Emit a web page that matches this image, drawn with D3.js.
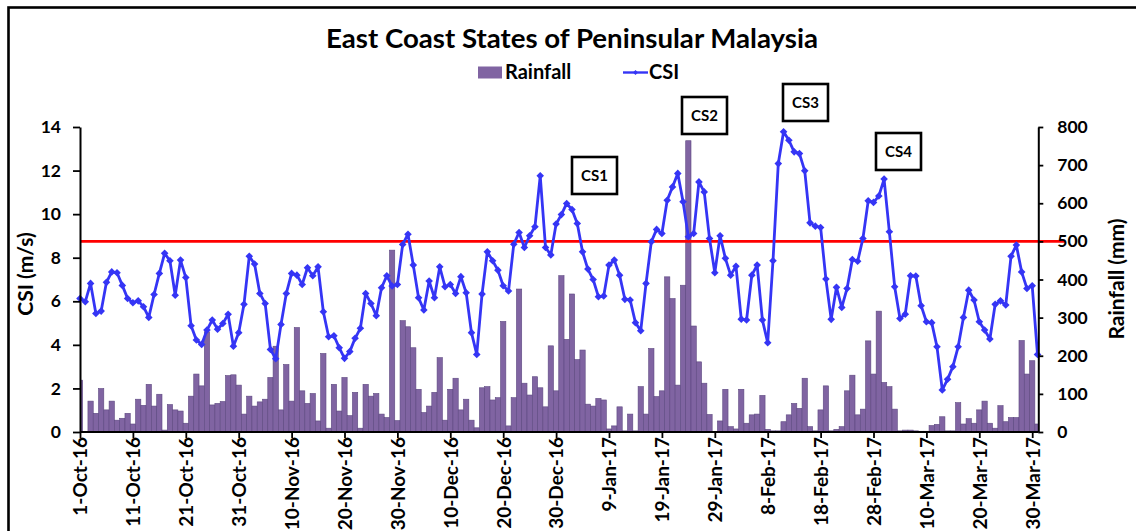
<!DOCTYPE html>
<html><head><meta charset="utf-8">
<script src="https://cdn.jsdelivr.net/npm/d3@7"></script>
<style>
html,body{margin:0;padding:0;background:#fff;}
svg{display:block;font-family:Lato,"Open Sans",sans-serif;}
</style></head>
<body><svg id="chart" width="1136" height="531"></svg>
<script>
// ---- data ----
const startDate = "2016-10-01";
const csi = [
6.13,5.98,6.82,5.44,5.55,6.87,7.35,7.31,6.73,6.13,
5.93,6.02,5.75,5.26,6.31,7.28,8.20,7.86,6.28,7.89,
7.09,4.88,4.22,4.02,4.68,5.14,4.72,4.98,5.40,3.94,
4.56,5.86,8.07,7.71,6.36,5.90,3.79,3.36,4.94,6.36,
7.28,7.20,6.77,7.54,7.17,7.58,5.52,4.37,4.42,3.87,
3.38,3.69,4.30,4.76,6.36,5.90,5.34,6.62,7.17,6.70,
6.77,8.61,9.08,7.66,6.16,5.60,6.93,6.16,7.58,6.67,
6.77,6.36,7.13,6.39,4.56,3.56,6.33,8.27,7.86,7.43,
6.71,6.47,8.62,9.16,8.47,9.01,9.42,11.76,8.47,8.13,
9.55,9.98,10.49,10.21,9.57,8.27,7.48,7.00,6.21,6.24,
7.66,7.89,7.20,6.09,6.06,5.02,4.65,6.82,8.73,9.30,
9.11,10.64,11.25,11.87,10.57,8.96,9.11,11.48,11.02,8.88,
7.31,9.01,7.97,7.20,7.61,5.18,5.14,7.20,7.66,5.14,
4.10,7.86,12.32,13.78,13.39,12.86,12.78,11.99,9.60,9.45,
9.39,7.02,5.17,6.64,5.72,6.59,7.92,7.84,8.88,10.61,
10.54,10.83,11.61,9.19,6.67,5.21,5.41,7.17,7.16,5.80,
5.06,5.02,3.91,1.93,2.42,3.00,3.91,5.26,6.51,6.06,
5.06,4.68,4.27,5.86,6.02,5.83,8.07,8.58,7.35,6.59,
6.71,3.56];
const rainfall = [
136,0,81,49,114,58,81,31,36,49,
21,86,70,125,68,99,5,72,58,55,
23,94,152,121,263,71,75,80,148,150,
123,47,94,68,79,86,143,225,58,177,
81,274,108,75,101,29,206,10,125,55,
143,43,104,10,125,94,101,47,38,477,
30,292,276,221,112,51,68,104,195,31,
112,141,58,86,31,11,116,119,84,90,
290,16,90,375,128,97,145,116,66,226,
108,410,243,362,190,215,73,68,88,84,
8,16,66,3,47,3,119,47,219,93,
108,407,350,123,385,764,278,184,128,46,
0,29,112,14,8,112,23,45,47,96,
7,3,3,27,45,75,62,141,14,3,
58,121,3,7,14,108,149,45,60,239,
152,317,130,119,60,3,5,5,3,2,
2,17,20,40,3,3,77,21,35,23,
58,81,23,10,69,27,38,38,240,152,
187,21];
const csiTicks = [0,2,4,6,8,10,12,14];
const rainTicks = [0,100,200,300,400,500,600,700,800];
const thresholdRain = 500;
const annotations = [
  {label:"CS1", x:572, y:157, w:45, h:37},
  {label:"CS2", x:682, y:97,  w:45, h:37},
  {label:"CS3", x:783, y:84,  w:45, h:37},
  {label:"CS4", x:876, y:133, w:45, h:37}
];
const titleText = "East Coast States of Peninsular Malaysia";

(function(){
const svg = d3.select("#chart");
const parse = d3.utcParse("%Y-%m-%d");
const day0 = parse(startDate);
const dates = csi.map((_, i) => d3.utcDay.offset(day0, i));
const data = dates.map((d, i) => ({date:d, csi:csi[i], rain:rainfall[i]}));

const pL = 80, pR = 1037.5, pT = 127, pB = 432;
const x = d3.scaleUtc().domain([dates[0], dates[dates.length-1]]).range([pL, pR]);
const yL = d3.scaleLinear().domain([0,14]).range([pB, pT]);
const yR = d3.scaleLinear().domain([0,800]).range([pB, pT]);
const bw = x(dates[1]) - x(dates[0]);

const purple = "#8064A2", blue = "#3535F5";

svg.append("rect").attr("x",8.5).attr("y",7.5).attr("width",1300).attr("height",700)
  .attr("fill","none").attr("stroke","#000").attr("stroke-width",2.6);

svg.append("clipPath").attr("id","plotclip").append("rect")
  .attr("x",pL).attr("y",pT-5).attr("width",pR-pL+1).attr("height",pB-pT+5);

svg.append("g").attr("clip-path","url(#plotclip)")
  .selectAll("rect").data(data).join("rect")
  .attr("x", d => x(d.date) - bw/2)
  .attr("width", bw)
  .attr("y", d => yR(d.rain))
  .attr("height", d => pB - yR(d.rain))
  .attr("fill", purple)
  .attr("stroke", "#5d4880").attr("stroke-width", 0.6);

svg.append("line").attr("x1",pL).attr("x2",1065)
  .attr("y1",yR(thresholdRain)).attr("y2",yR(thresholdRain))
  .attr("stroke","#FF0000").attr("stroke-width",2.8);

const line = d3.line().x(d => x(d.date)).y(d => yL(d.csi));
svg.append("path").datum(data).attr("d", line)
  .attr("fill","none").attr("stroke",blue).attr("stroke-width",2.8).attr("stroke-linejoin","round");
const diamond = "M0,-3.8L3.8,0L0,3.8L-3.8,0Z";
svg.append("g").selectAll("path").data(data).join("path")
  .attr("d", diamond)
  .attr("transform", d => `translate(${x(d.date)},${yL(d.csi)})`)
  .attr("fill", blue);

const axStyle = g => {
  g.selectAll("path.domain").attr("stroke","#000").attr("stroke-width",2);
  g.selectAll(".tick line").attr("stroke","#000").attr("stroke-width",1.8);
  g.selectAll("text").attr("fill","#000").attr("font-weight","bold")
    .attr("font-family","Lato, 'Open Sans', sans-serif");
};
svg.append("g").attr("transform",`translate(${pL},0)`)
  .call(d3.axisLeft(yL).tickValues(csiTicks).tickSize(7).tickSizeOuter(0).tickPadding(12))
  .call(axStyle).call(g => g.selectAll("text").attr("font-size",17.5));
svg.append("g").attr("transform",`translate(${pR+0.8},0)`)
  .call(d3.axisRight(yR).tickValues(rainTicks).tickSize(5).tickSizeOuter(0).tickPadding(14))
  .call(axStyle).call(g => g.selectAll("text").attr("font-size",17.5));

const xTicks = d3.range(0, dates.length, 10).map(i => dates[i]);
const fmt = d3.utcFormat("%-d-%b-%y");
const xg = svg.append("g").attr("transform",`translate(0,${pB})`)
  .call(d3.axisBottom(x).tickValues(xTicks).tickFormat(fmt).tickSize(6).tickSizeOuter(0))
  .call(axStyle);
xg.select("path.domain").attr("d", `M${pL},0H${pR+0.8}`);
xg.selectAll(".tick text")
  .attr("font-size",19)
  .attr("text-anchor","end")
  .attr("transform","rotate(-90)")
  .attr("x",-5).attr("y",0).attr("dy","0.36em");

svg.append("text").attr("transform","translate(33,274) rotate(-90)")
  .attr("text-anchor","middle").attr("font-weight","bold").attr("font-size",21)
  .text("CSI (m/s)");
svg.append("text").attr("transform","translate(1124,279) rotate(-90)")
  .attr("text-anchor","middle").attr("font-weight","bold").attr("font-size",21)
  .text("Rainfall (mm)");

svg.append("text").attr("x",572).attr("y",48).attr("text-anchor","middle")
  .attr("font-weight","bold").attr("font-size",26)
  .attr("textLength",492).attr("lengthAdjust","spacingAndGlyphs")
  .text(titleText);

svg.append("rect").attr("x",478).attr("y",66.5).attr("width",24).attr("height",12).attr("fill",purple);
svg.append("text").attr("x",505).attr("y",79).attr("font-weight","bold").attr("font-size",20).text("Rainfall");
svg.append("line").attr("x1",623).attr("x2",648).attr("y1",72.5).attr("y2",72.5)
  .attr("stroke",blue).attr("stroke-width",2.4);
svg.append("path").attr("d","M0,-2.5L2.5,0L0,2.5L-2.5,0Z").attr("transform","translate(635.5,72.5)").attr("fill",blue);
svg.append("text").attr("x",649).attr("y",79).attr("font-weight","bold").attr("font-size",20).text("CSI");

const ag = svg.append("g").selectAll("g").data(annotations).join("g");
ag.append("rect").attr("x",d=>d.x).attr("y",d=>d.y).attr("width",d=>d.w).attr("height",d=>d.h)
  .attr("fill","#fff").attr("stroke","#000").attr("stroke-width",2.6);
ag.append("text").attr("x",d=>d.x+d.w/2).attr("y",d=>d.y+d.h/2).attr("dy","0.36em")
  .attr("text-anchor","middle").attr("font-weight","bold").attr("font-size",15)
  .text(d=>d.label);
})();
</script></body></html>
